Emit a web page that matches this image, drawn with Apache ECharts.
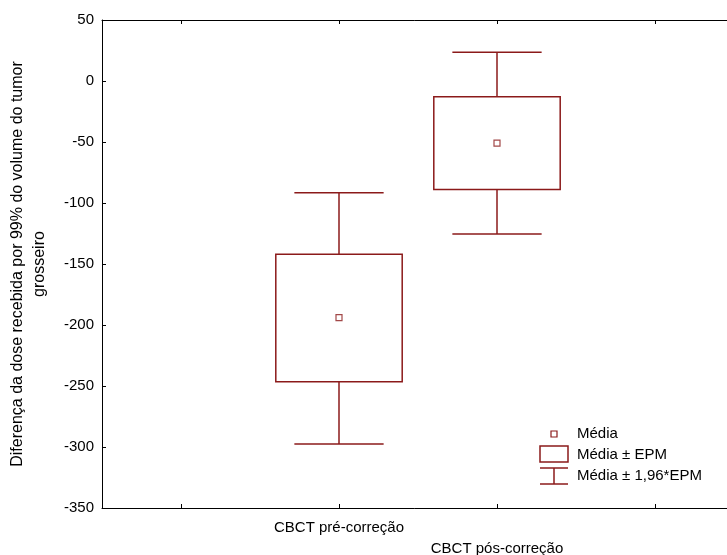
<!DOCTYPE html>
<html>
<head>
<meta charset="utf-8">
<script src="https://cdn.jsdelivr.net/npm/echarts@6/dist/echarts.min.js"></script>
<style>
  html, body { margin: 0; padding: 0; background: #fff; }
  #chart { width: 727px; height: 555px; }
</style>
</head>
<body>
<div id="chart"></div>
<script>
// dados
var categories = ['CBCT pré-correção', 'CBCT pós-correção'];
var means = [-194, -51];
var epmLow = [-246.5, -89];
var epmHigh = [-142, -13];
var ciLow = [-297.5, -125.5];
var ciHigh = [-91.5, 23.5];
var yTicks = [-350, -300, -250, -200, -150, -100, -50, 0, 50];

var RED = '#8b1a1a';
var FONT = 'Liberation Sans, Arial, sans-serif';

// cada categoria ocupa a posição 3 + 2*i no eixo x (ticks em 1,3,5,7)
function xOf(i) { return 3 + 2 * i; }

var meanData = means.map(function (m, i) { return [xOf(i), m]; });
var rangeData = categories.map(function (c, i) {
  return [xOf(i), ciLow[i], epmLow[i], epmHigh[i], ciHigh[i]];
});

var chart = echarts.init(document.getElementById('chart'));

chart.setOption({
  animation: false,
  backgroundColor: '#fff',
  grid: { left: 102, top: 20, bottom: 47, right: -7, containLabel: false, outerBoundsMode: 'none' },
  xAxis: [{
    type: 'value',
    min: 0,
    max: 8,
    position: 'bottom',
    axisLine: { show: true, onZero: false, lineStyle: { color: '#000', width: 1 } },
    axisTick: { show: true, inside: true, length: 4, customValues: [1, 3, 5, 7], lineStyle: { color: '#000' } },
    axisLabel: {
      show: true,
      customValues: [3, 5],
      margin: 9,
      color: '#000',
      fontFamily: FONT,
      fontSize: 15,
      lineHeight: 21,
      formatter: function (v) {
        var i = Math.round((v - 3) / 2);
        return i === 0 ? categories[0] : '\n' + categories[1];
      }
    },
    splitLine: { show: false }
  }, {
    type: 'value',
    min: 0,
    max: 8,
    position: 'top',
    axisLine: { show: true, onZero: false, lineStyle: { color: '#000', width: 1 } },
    axisTick: { show: true, inside: true, length: 4, customValues: [1, 3, 5, 7], lineStyle: { color: '#000' } },
    axisLabel: { show: false },
    splitLine: { show: false }
  }],
  yAxis: {
    type: 'value',
    min: yTicks[0],
    max: yTicks[yTicks.length - 1],
    interval: 50,
    name: 'Diferença da dose recebida por 99% do volume do tumor\ngrosseiro',
    nameLocation: 'middle',
    nameGap: 51,
    nameMoveOverlap: false,
    nameTextStyle: { color: '#000', fontFamily: FONT, fontSize: 16, lineHeight: 22 },
    axisLine: { show: true, onZero: false, lineStyle: { color: '#000', width: 1 } },
    axisTick: { show: true, inside: true, length: 4, lineStyle: { color: '#000' } },
    axisLabel: { color: '#000', fontFamily: FONT, fontSize: 15, margin: 8 },
    splitLine: { show: false }
  },
  series: [{
    name: 'Média ± 1,96*EPM',
    type: 'custom',
    xAxisIndex: 0,
    data: rangeData,
    renderItem: function (params, api) {
      var x = api.value(0);
      var cap = 0.565;
      var lo = api.coord([x, api.value(1)]);
      var bLo = api.coord([x, api.value(2)]);
      var bHi = api.coord([x, api.value(3)]);
      var hi = api.coord([x, api.value(4)]);
      var capL = api.coord([x - cap, api.value(4)]);
      var capR = api.coord([x + cap, api.value(4)]);
      var capL2 = api.coord([x - cap, api.value(1)]);
      var capR2 = api.coord([x + cap, api.value(1)]);
      var style = { stroke: RED, lineWidth: 1.5, fill: null };
      return {
        type: 'group',
        children: [
          { type: 'line', shape: { x1: hi[0], y1: hi[1], x2: bHi[0], y2: bHi[1] }, style: style },
          { type: 'line', shape: { x1: lo[0], y1: lo[1], x2: bLo[0], y2: bLo[1] }, style: style },
          { type: 'line', shape: { x1: capL[0], y1: capL[1], x2: capR[0], y2: capR[1] }, style: style },
          { type: 'line', shape: { x1: capL2[0], y1: capL2[1], x2: capR2[0], y2: capR2[1] }, style: style }
        ]
      };
    }
  }, {
    name: 'Média ± EPM',
    type: 'custom',
    xAxisIndex: 0,
    data: rangeData,
    renderItem: function (params, api) {
      var x = api.value(0);
      var half = 0.8;
      var tl = api.coord([x - half, api.value(3)]);
      var br = api.coord([x + half, api.value(2)]);
      return {
        type: 'rect',
        shape: { x: tl[0], y: tl[1], width: br[0] - tl[0], height: br[1] - tl[1] },
        style: { stroke: RED, lineWidth: 1.5, fill: null }
      };
    }
  }, {
    name: 'Média',
    type: 'scatter',
    xAxisIndex: 0,
    data: meanData,
    symbol: 'rect',
    symbolSize: 6,
    itemStyle: { color: '#fff', borderColor: RED, borderWidth: 1.2 }
  }],
  graphic: [
    { type: 'rect', shape: { x: 551, y: 431, width: 6, height: 6 }, style: { fill: '#fff', stroke: RED, lineWidth: 1.2 } },
    { type: 'rect', shape: { x: 540, y: 446, width: 28, height: 16 }, style: { fill: null, stroke: RED, lineWidth: 1.5 } },
    { type: 'line', shape: { x1: 540, y1: 468, x2: 568, y2: 468 }, style: { stroke: RED, lineWidth: 1.5 } },
    { type: 'line', shape: { x1: 554, y1: 468, x2: 554, y2: 484 }, style: { stroke: RED, lineWidth: 1.5 } },
    { type: 'line', shape: { x1: 540, y1: 484, x2: 568, y2: 484 }, style: { stroke: RED, lineWidth: 1.5 } },
    { type: 'text', x: 577, y: 434, style: { text: 'Média', fill: '#000', font: '15px ' + FONT, verticalAlign: 'middle' } },
    { type: 'text', x: 577, y: 455, style: { text: 'Média ± EPM', fill: '#000', font: '15px ' + FONT, verticalAlign: 'middle' } },
    { type: 'text', x: 577, y: 476, style: { text: 'Média ± 1,96*EPM', fill: '#000', font: '15px ' + FONT, verticalAlign: 'middle' } }
  ]
});
</script>
</body>
</html>
